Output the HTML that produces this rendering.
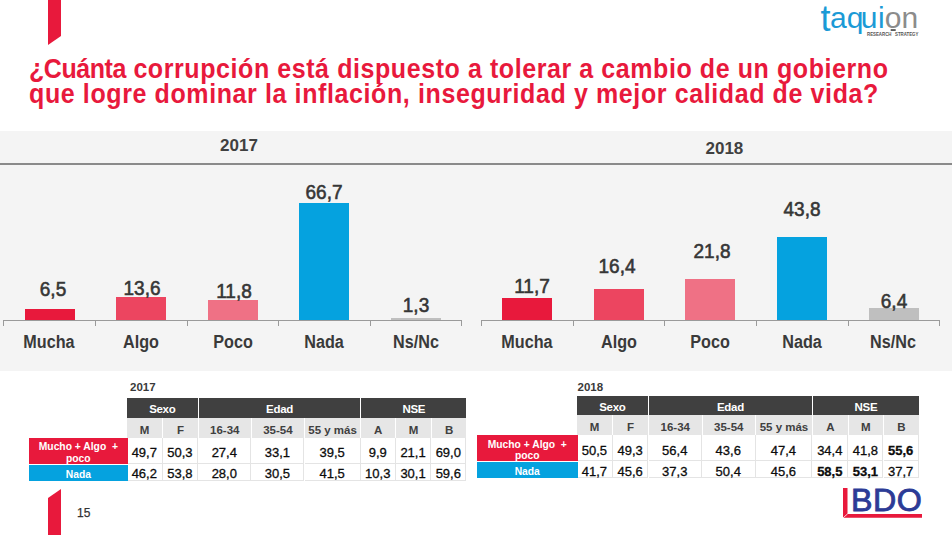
<!DOCTYPE html>
<html lang="es">
<head>
<meta charset="utf-8">
<title>¿Cuánta corrupción está dispuesto a tolerar?</title>
<style>
  html, body { margin: 0; padding: 0; }
  body { width: 952px; height: 535px; background: #ffffff; position: relative; overflow: hidden;
         font-family: "Liberation Sans", sans-serif; color: #333333; }
  .abs { position: absolute; }
  .ribbon { position: absolute; left: 0; top: 0; }
  .title { position: absolute; left: 29px; top: 57px; margin: 0; font-weight: bold; font-size: 27.5px;
           line-height: 24.6px; color: #e8193c; white-space: nowrap; transform: scaleX(0.909); transform-origin: 0 0; }
  #t1 { letter-spacing: 0.638px; } #t1 .w1 { display: inline; letter-spacing: -0.495px; } #t2 { letter-spacing: 0.671px; }
  .title span { display: block; }
  .band { position: absolute; left: 0; top: 131px; width: 952px; height: 240px; background: #f4f4f4; }
  .band .rule { position: absolute; left: 0; top: 32px; width: 952px; height: 2px; background: #8a8a8a; }
  .year { position: absolute; font-weight: bold; font-size: 17px; line-height: 20px; color: #404040; width: 80px; text-align: center; }
  .axis { position: absolute; height: 1px; background: #9a9a9a; }
  .tick { position: absolute; width: 1px; height: 6px; background: #9a9a9a; }
  .bar { position: absolute; width: 50px; }
  .val { position: absolute; width: 80px; text-align: center; font-weight: normal; font-size: 20px; line-height: 20px; color: #363636; -webkit-text-stroke: 0.6px #363636; transform: scaleX(0.95); margin-top: -0.5px; }
  .cat { position: absolute; width: 92px; text-align: center; font-weight: bold; font-size: 17.5px; line-height: 20px; color: #3a3a3a; top: 332.1px; transform: scaleX(0.925); }
  .c1 { background: #e8193c; } .c2 { background: #ec4560; } .c3 { background: #ef7185; }
  .c4 { background: #05a2df; } .c5 { background: #bfbfbf; }
  .tlabel { position: absolute; font-weight: bold; font-size: 11.5px; line-height: 12px; color: #3a3a3a; }
  .tbl { position: absolute; left: 0; top: 0; }
  .tbl div { position: absolute; box-sizing: border-box; text-align: center; white-space: nowrap; overflow: hidden; }
  #tbl2017 div { padding-top: 0.5px; } #tbl2018 div { padding-top: 0.9px; }
  .h1 { background: #404040; color: #ffffff; font-weight: bold; font-size: 11.5px; letter-spacing: -0.3px; }
  .h2 { background: #e6e6e6; color: #404040; font-weight: bold; font-size: 11.5px; }
  .td { overflow: visible !important; background: #ffffff; color: #0c0c0c; font-size: 13px; -webkit-text-stroke: 0.3px #0c0c0c; border-right: 1px solid #e4e4e4; border-bottom: 1px solid #e4e4e4; }
  .td.b { font-weight: bold; }
  .lr { background: #e8193c; color: #ffffff; font-weight: bold; font-size: 10.3px; line-height: 11.2px; white-space: pre !important; }
  .lb { background: #05a2df; color: #ffffff; font-weight: bold; font-size: 10.3px; }
  .pg { position: absolute; left: 77px; top: 506px; font-size: 12px; line-height: 14px; color: #333; -webkit-text-stroke: 0.25px #333; }
</style>
</head>
<body>

<svg class="ribbon" width="952" height="535" viewBox="0 0 952 535">
  <polygon points="48,0 61,0 61,36 48,45" fill="#e8193c"/>
  <polygon points="48,535 48,498 61,489 61,535" fill="#e8193c"/>
</svg>

<h1 class="title"><span id="t1"><span class="w1">¿Cuánta</span> corrupción está dispuesto a tolerar a cambio de un gobierno</span><span id="t2">que logre dominar la inflación, inseguridad y mejor calidad de vida?</span></h1>

<div class="band"><div class="rule"></div></div>

<div class="year" id="y17" style="left:199px; top:135.8px;">2017</div>
<div class="year" id="y18" style="left:684.4px; top:138.7px;">2018</div>

<!-- chart 17 -->
<div class="axis" style="left:3px; top:320px; width:459px;"></div>
<div class="tick" style="left:3px; top:320px;"></div>
<div class="tick" style="left:95px; top:320px;"></div>
<div class="tick" style="left:187px; top:320px;"></div>
<div class="tick" style="left:278px; top:320px;"></div>
<div class="tick" style="left:370px; top:320px;"></div>
<div class="tick" style="left:461px; top:320px;"></div>
<div class="bar c1" style="left:25px; top:309.2px; height:10.8px;"></div>
<div class="bar c2" style="left:116px; top:297.2px; height:22.8px;"></div>
<div class="bar c3" style="left:208px; top:300.2px; height:19.8px;"></div>
<div class="bar c4" style="left:299px; top:203px; height:117.0px;"></div>
<div class="bar c5" style="left:391px; top:318px; height:2.0px;"></div>
<div class="val" id="v17_0" style="left:13.4px; top:279.9px;">6,5</div>
<div class="val" id="v17_1" style="left:101.5px; top:278.6px;">13,6</div>
<div class="val" id="v17_2" style="left:194.4px; top:281.0px;">11,8</div>
<div class="val" id="v17_3" style="left:284.2px; top:182.6px;">66,7</div>
<div class="val" id="v17_4" style="left:376.0px; top:295.1px;">1,3</div>
<div class="cat" id="c17_0" style="left:3.4px;">Mucha</div>
<div class="cat" id="c17_1" style="left:95.2px;">Algo</div>
<div class="cat" id="c17_2" style="left:186.6px;">Poco</div>
<div class="cat" id="c17_3" style="left:278.4px;">Nada</div>
<div class="cat" id="c17_4" style="left:369.6px;">Ns/Nc</div>
<!-- chart 18 -->
<div class="axis" style="left:481px; top:320px; width:459px;"></div>
<div class="tick" style="left:481px; top:320px;"></div>
<div class="tick" style="left:573px; top:320px;"></div>
<div class="tick" style="left:664px; top:320px;"></div>
<div class="tick" style="left:756px; top:320px;"></div>
<div class="tick" style="left:848px; top:320px;"></div>
<div class="tick" style="left:939px; top:320px;"></div>
<div class="bar c1" style="left:502px; top:298.1px; height:21.9px;"></div>
<div class="bar c2" style="left:594px; top:288.9px; height:31.1px;"></div>
<div class="bar c3" style="left:685px; top:279px; height:41.0px;"></div>
<div class="bar c4" style="left:777px; top:237px; height:83.0px;"></div>
<div class="bar c5" style="left:869px; top:308.2px; height:11.8px;"></div>
<div class="val" id="v18_0" style="left:492.0px; top:276.0px;">11,7</div>
<div class="val" id="v18_1" style="left:576.9px; top:256.9px;">16,4</div>
<div class="val" id="v18_2" style="left:671.7px; top:241.6px;">21,8</div>
<div class="val" id="v18_3" style="left:761.7px; top:199.6px;">43,8</div>
<div class="val" id="v18_4" style="left:853.7px; top:291.2px;">6,4</div>
<div class="cat" id="c18_0" style="left:480.8px;">Mucha</div>
<div class="cat" id="c18_1" style="left:572.7px;">Algo</div>
<div class="cat" id="c18_2" style="left:664.2px;">Poco</div>
<div class="cat" id="c18_3" style="left:756.4px;">Nada</div>
<div class="cat" id="c18_4" style="left:847.4px;">Ns/Nc</div>
<!-- table 2017 -->
<div class="tlabel" style="left:130px; top:381px;">2017</div>
<div class="tbl" id="tbl2017">
  <div class="h1" style="left:127.0px; top:398.2px; width:70.6px; height:19.8px; line-height:21.3px;">Sexo</div>
  <div class="h1" style="left:199.0px; top:398.2px; width:161.0px; height:19.8px; line-height:21.3px;">Edad</div>
  <div class="h1" style="left:361.4px; top:398.2px; width:104.9px; height:19.8px; line-height:21.3px;">NSE</div>
  <div class="h2" style="left:127.0px; top:418.0px; width:35.1px; height:20.1px; line-height:22.5px;">M</div>
  <div class="h2" style="left:163.1px; top:418.0px; width:34.7px; height:20.1px; line-height:22.5px;">F</div>
  <div class="h2" style="left:198.8px; top:418.0px; width:52.0px; height:20.1px; line-height:22.5px;">16-34</div>
  <div class="h2" style="left:251.8px; top:418.0px; width:52.2px; height:20.1px; line-height:22.5px;">35-54</div>
  <div class="h2" style="left:305.0px; top:418.0px; width:55.2px; height:20.1px; line-height:22.5px;">55 y más</div>
  <div class="h2" style="left:361.2px; top:418.0px; width:34.1px; height:20.1px; line-height:22.5px;">A</div>
  <div class="h2" style="left:396.3px; top:418.0px; width:34.5px; height:20.1px; line-height:22.5px;">M</div>
  <div class="h2" style="left:431.8px; top:418.0px; width:34.5px; height:20.1px; line-height:22.5px;">B</div>
  <div class="td" style="left:127.0px; top:438.1px; width:35.6px; height:25.8px; line-height:28.8px;">49,7</div>
  <div class="td" style="left:162.6px; top:438.1px; width:35.7px; height:25.8px; line-height:28.8px;">50,3</div>
  <div class="td" style="left:198.3px; top:438.1px; width:53.0px; height:25.8px; line-height:28.8px;">27,4</div>
  <div class="td" style="left:251.3px; top:438.1px; width:53.2px; height:25.8px; line-height:28.8px;">33,1</div>
  <div class="td" style="left:304.5px; top:438.1px; width:56.2px; height:25.8px; line-height:28.8px;">39,5</div>
  <div class="td" style="left:360.7px; top:438.1px; width:35.1px; height:25.8px; line-height:28.8px;">9,9</div>
  <div class="td" style="left:395.8px; top:438.1px; width:35.5px; height:25.8px; line-height:28.8px;">21,1</div>
  <div class="td" style="left:431.3px; top:438.1px; width:35.0px; height:25.8px; line-height:28.8px;">69,0</div>
  <div class="td" style="left:127.0px; top:463.9px; width:35.6px; height:17.0px; line-height:20.2px;">46,2</div>
  <div class="td" style="left:162.6px; top:463.9px; width:35.7px; height:17.0px; line-height:20.2px;">53,8</div>
  <div class="td" style="left:198.3px; top:463.9px; width:53.0px; height:17.0px; line-height:20.2px;">28,0</div>
  <div class="td" style="left:251.3px; top:463.9px; width:53.2px; height:17.0px; line-height:20.2px;">30,5</div>
  <div class="td" style="left:304.5px; top:463.9px; width:56.2px; height:17.0px; line-height:20.2px;">41,5</div>
  <div class="td" style="left:360.7px; top:463.9px; width:35.1px; height:17.0px; line-height:20.2px;">10,3</div>
  <div class="td" style="left:395.8px; top:463.9px; width:35.5px; height:17.0px; line-height:20.2px;">30,1</div>
  <div class="td" style="left:431.3px; top:463.9px; width:35.0px; height:17.0px; line-height:20.2px;">59,6</div>
  <div class="lr" style="left:29.0px; top:438.1px; width:98.7px; height:25.8px; padding-top:3.4px;">Mucho + Algo  +
poco</div>
  <div class="lb" style="left:29.0px; top:464.9px; width:98.7px; height:16.0px; line-height:19.6px;">Nada</div>
</div>
<!-- table 2018 -->
<div class="tlabel" style="left:577.5px; top:381px;">2018</div>
<div class="tbl" id="tbl2018">
  <div class="h1" style="left:577.0px; top:396.2px; width:70.8px; height:18.8px; line-height:20.3px;">Sexo</div>
  <div class="h1" style="left:649.2px; top:396.2px; width:162.5px; height:18.8px; line-height:20.3px;">Edad</div>
  <div class="h1" style="left:813.1px; top:396.2px; width:105.7px; height:18.8px; line-height:20.3px;">NSE</div>
  <div class="h2" style="left:577.0px; top:415.0px; width:35.2px; height:20.2px; line-height:22.6px;">M</div>
  <div class="h2" style="left:613.2px; top:415.0px; width:34.8px; height:20.2px; line-height:22.6px;">F</div>
  <div class="h2" style="left:649.0px; top:415.0px; width:52.5px; height:20.2px; line-height:22.6px;">16-34</div>
  <div class="h2" style="left:702.5px; top:415.0px; width:52.5px; height:20.2px; line-height:22.6px;">35-54</div>
  <div class="h2" style="left:756.0px; top:415.0px; width:55.9px; height:20.2px; line-height:22.6px;">55 y más</div>
  <div class="h2" style="left:812.9px; top:415.0px; width:34.8px; height:20.2px; line-height:22.6px;">A</div>
  <div class="h2" style="left:848.7px; top:415.0px; width:34.3px; height:20.2px; line-height:22.6px;">M</div>
  <div class="h2" style="left:884.0px; top:415.0px; width:34.8px; height:20.2px; line-height:22.6px;">B</div>
  <div class="td" style="left:577.0px; top:435.2px; width:35.7px; height:26.1px; line-height:29.1px;">50,5</div>
  <div class="td" style="left:612.7px; top:435.2px; width:35.8px; height:26.1px; line-height:29.1px;">49,3</div>
  <div class="td" style="left:648.5px; top:435.2px; width:53.5px; height:26.1px; line-height:29.1px;">56,4</div>
  <div class="td" style="left:702.0px; top:435.2px; width:53.5px; height:26.1px; line-height:29.1px;">43,6</div>
  <div class="td" style="left:755.5px; top:435.2px; width:56.9px; height:26.1px; line-height:29.1px;">47,4</div>
  <div class="td" style="left:812.4px; top:435.2px; width:35.8px; height:26.1px; line-height:29.1px;">34,4</div>
  <div class="td" style="left:848.2px; top:435.2px; width:35.3px; height:26.1px; line-height:29.1px;">41,8</div>
  <div class="td b" style="left:883.5px; top:435.2px; width:35.3px; height:26.1px; line-height:29.1px;">55,6</div>
  <div class="td" style="left:577.0px; top:461.3px; width:35.7px; height:17.2px; line-height:20.4px;">41,7</div>
  <div class="td" style="left:612.7px; top:461.3px; width:35.8px; height:17.2px; line-height:20.4px;">45,6</div>
  <div class="td" style="left:648.5px; top:461.3px; width:53.5px; height:17.2px; line-height:20.4px;">37,3</div>
  <div class="td" style="left:702.0px; top:461.3px; width:53.5px; height:17.2px; line-height:20.4px;">50,4</div>
  <div class="td" style="left:755.5px; top:461.3px; width:56.9px; height:17.2px; line-height:20.4px;">45,6</div>
  <div class="td b" style="left:812.4px; top:461.3px; width:35.8px; height:17.2px; line-height:20.4px;">58,5</div>
  <div class="td b" style="left:848.2px; top:461.3px; width:35.3px; height:17.2px; line-height:20.4px;">53,1</div>
  <div class="td" style="left:883.5px; top:461.3px; width:35.3px; height:17.2px; line-height:20.4px;">37,7</div>
  <div class="lr" style="left:476.8px; top:435.2px; width:100.9px; height:26.1px; padding-top:3.9px;">Mucho + Algo  +
poco</div>
  <div class="lb" style="left:476.8px; top:462.3px; width:100.9px; height:16.2px; line-height:17.4px;">Nada</div>
</div>

<!-- taquion logo -->
<svg class="abs" style="left:805px; top:0;" width="147" height="45" viewBox="805 0 147 45">
  <text id="tq" font-family="'Liberation Sans', sans-serif" font-size="30" letter-spacing="0.45" fill="#1b9ad6"><tspan x="820.6" y="31.4" font-size="36">t</tspan><tspan x="829.9" y="27.5" dx="0 -0.4 -3.0 0">aqui</tspan><tspan fill="#8c8c8c" dx="-0.4 -0.4">on</tspan></text>
  <rect x="890.7" y="29.2" width="5" height="1.7" fill="#4a4a4a"/>
  <text id="tqs" x="867" y="35.9" font-family="'Liberation Sans', sans-serif" font-size="5.2" font-weight="bold" fill="#555555" textLength="51.4" lengthAdjust="spacingAndGlyphs" xml:space="preserve">RESEARCH   STRATEGY</text>
</svg>

<!-- BDO logo -->
<svg class="abs" style="left:835px; top:480px;" width="117" height="55" viewBox="835 480 117 55">
  <polygon points="843,488 847.5,488 847.5,514 922,514 922,517.7 843,517.7" fill="#e8193c"/>
  <line x1="843" y1="517.9" x2="847.7" y2="513.8" stroke="#ffffff" stroke-width="0.8"/>
  <text id="bdo" x="851" y="510.8" font-family="'Liberation Sans', sans-serif" font-size="32.2" fill="#2c3b96" stroke="#2c3b96" stroke-width="0.9" letter-spacing="0.5">BDO</text>
</svg>

<div class="pg">15</div>

</body>
</html>
